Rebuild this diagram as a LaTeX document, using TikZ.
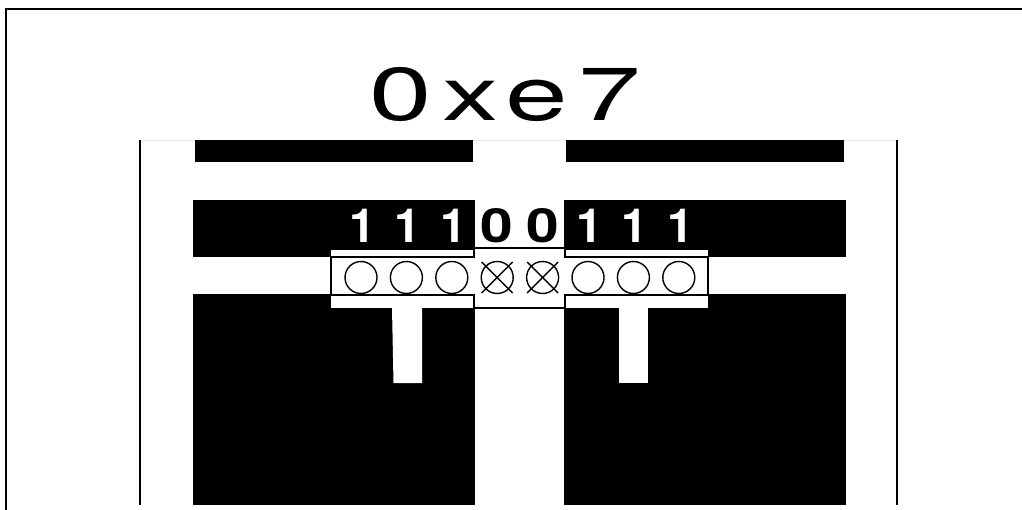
\documentclass[tikz,border=0pt]{standalone}
\usepackage{fontspec}
\setmainfont{TeX Gyre Heros}
\usepackage{tikz}
\usetikzlibrary{positioning,shapes.misc}
\definecolor{faintrule}{RGB}{232,232,232}
\tikzset{
  slab/.style={fill=black},
  gapfill/.style={fill=white},
  rulebar/.style={draw=black,line width=1.6pt},
  bitcircle/.style={circle,draw=black,line width=1.4pt,minimum size=32pt,inner sep=0pt,outer sep=0pt},
  crossmark/.style={cross out,draw=black,line width=1.4pt,minimum size=31pt,inner sep=0pt,outer sep=0pt},
  onedigit/.style={anchor=base,text=white,font=\fontsize{47pt}{47pt}\selectfont\bfseries,xshift=1.5pt,inner sep=0pt},
  zerodigit/.style={anchor=base,text=black,font=\fontsize{47pt}{47pt}\selectfont\bfseries,xscale=1.25,inner sep=0pt},
  heading/.style={anchor=base,font=\fontsize{75pt}{75pt}\selectfont\addfontfeature{LetterSpace=9.3},xscale=1.5,inner sep=0pt}
}
\begin{document}
\begin{tikzpicture}[x=1pt,y=-1pt,node distance=13.4pt]
  \useasboundingbox (0,0) rectangle (1022,510);
  \draw[line width=2pt] (1022,9) -- (6,9) -- (6,510);
  \node[heading] (title) at (505.5,120.5) {0xe7};
  \draw[faintrule,line width=0.8pt] (140,140.5) -- (897,140.5);
  \draw[line width=1.6pt] (140,140) -- (140,505);
  \draw[line width=1.6pt] (897,140) -- (897,505);
  % black slabs
  \fill[slab] (195,140) rectangle (473,162);
  \fill[slab] (566,140) rectangle (844,162);
  \fill[slab] (193,200) rectangle (474,257);
  \fill[slab] (565,200) rectangle (846,257);
  \fill[slab] (193,294) rectangle (474,505);
  \fill[slab] (565,294) rectangle (846,505);
  % white window
  \fill[gapfill] (331,250) rectangle (474,308);
  \fill[gapfill] (565,250) rectangle (708,308);
  \fill[gapfill] (392,308) -- (422,308) -- (422,383) -- (393.5,383) -- cycle;
  \fill[gapfill] (619,308) rectangle (648,383);
  \draw[rulebar] (474,200) -- (474,257) -- (331,257) -- (331,295) -- (474,295) -- (474,505);
  \draw[rulebar] (565,200) -- (565,257) -- (708,257) -- (708,295) -- (565,295) -- (565,505);
  \draw[rulebar] (474,248) -- (565,248);
  \draw[rulebar] (474,308) -- (565,308);
  % bit holes
  \node[bitcircle] (hole1) at (361,277.5) {};
  \node[bitcircle,right=of hole1] (hole2) {};
  \node[bitcircle,right=of hole2] (hole3) {};
  \node[bitcircle,right=of hole3] (hole4) {};
  \node[bitcircle,right=of hole4] (hole5) {};
  \node[bitcircle,right=of hole5] (hole6) {};
  \node[bitcircle,right=of hole6] (hole7) {};
  \node[bitcircle,right=of hole7] (hole8) {};
  \node[crossmark] (cross4) at (hole4) {};
  \node[crossmark] (cross5) at (hole5) {};
  % bit values
  \node[onedigit] (bit1) at (hole1 |- 0,242.5) {1};
  \node[onedigit] (bit2) at (hole2 |- 0,242.5) {1};
  \node[onedigit] (bit3) at (hole3 |- 0,242.5) {1};
  \node[zerodigit] (bit4) at (hole4 |- 0,242.5) {0};
  \node[zerodigit] (bit5) at (hole5 |- 0,242.5) {0};
  \node[onedigit] (bit6) at (hole6 |- 0,242.5) {1};
  \node[onedigit] (bit7) at (hole7 |- 0,242.5) {1};
  \node[onedigit] (bit8) at (hole8 |- 0,242.5) {1};
\end{tikzpicture}
\end{document}
